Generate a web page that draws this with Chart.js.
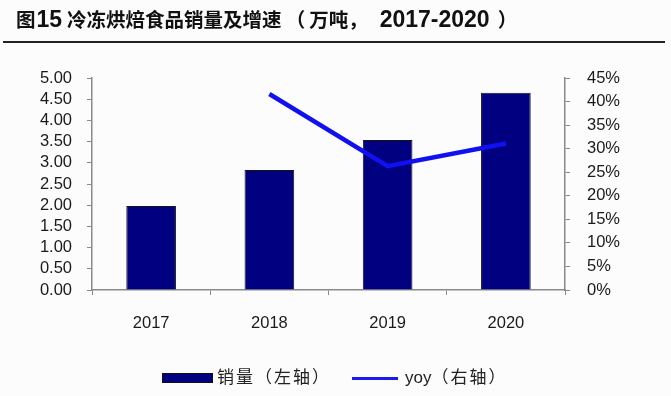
<!DOCTYPE html>
<html>
<head>
<meta charset="utf-8">
<script src="https://cdn.jsdelivr.net/npm/chart.js@4"></script>
<style>
  html, body { margin: 0; padding: 0; background: #fcfcfc; }
  #wrap { position: relative; width: 671px; height: 396px; overflow: hidden; }
  #title { position: absolute; left: 16px; top: 6px; font: bold 19.5px "Liberation Sans", "Noto Sans CJK SC", sans-serif; color: #111; white-space: nowrap; line-height: 26px; }
  #title .d { font-size: 23px; }
  #title .n { margin: 0 5px 0 1px; }
  #title .po { margin: 0 4px 0 4px; }
  #title .cm { margin-right: 12px; }
  #title .pc { margin-left: 8px; }
  #rule { position: absolute; left: 3px; top: 41px; width: 662px; height: 2px; background: #222; }
  canvas { position: absolute; left: 0; top: 0; }
  #legend { position: absolute; top: 367px; left: 0; width: 671px; height: 22px; font: 17px "Liberation Sans", "Noto Sans CJK SC", sans-serif; color: #222; }
  .item { position: absolute; top: 0; line-height: 22px; white-space: nowrap; }
  .cj { letter-spacing: 2px; }
  .sw-bar { position: absolute; width: 49px; height: 8px; background: #000080; border: 1px solid #111; top: 6px; }
  .sw-line { position: absolute; width: 46px; height: 3px; background: #1a1af0; top: 10px; }
</style>
</head>
<body>
<div id="wrap">
  <canvas id="c" width="671" height="396"></canvas>
  <div id="title">图<span class="d n">15</span>冷冻烘焙食品销量及增速<span class="po">（</span>万吨<span class="cm">，</span><span class="d">2017-2020</span><span class="pc">）</span></div>
  <div id="rule"></div>
  <div id="legend">
    <div class="sw-bar" style="left:162px"></div>
    <div class="item cj" style="left:217px">销量（左轴）</div>
    <div class="sw-line" style="left:352px"></div>
    <div class="item" style="left:405px">yoy<span class="cj">（右轴）</span></div>
  </div>
</div>
<script>
const years = ['2017', '2018', '2019', '2020'];
const salesVolume = [1.98, 2.83, 3.54, 4.65];      // 万吨
const yoyGrowth = [null, 41.6, 26.3, 31.1];          // %
const leftTicks = ['0.00','0.50','1.00','1.50','2.00','2.50','3.00','3.50','4.00','4.50','5.00'];
const rightTicks = ['0%','5%','10%','15%','20%','25%','30%','35%','40%','45%'];

const tickFont = { family: '"Liberation Sans", Arial, sans-serif', size: 16.5 };

new Chart(document.getElementById('c'), {
  data: {
    labels: years,
    datasets: [
      {
        type: 'line',
        label: 'yoy（右轴）',
        data: yoyGrowth,
        yAxisID: 'yR',
        borderColor: '#1010f0',
        borderWidth: 4.5,
        pointRadius: 0,
        tension: 0,
        fill: false,
        order: 0
      },
      {
        type: 'bar',
        label: '销量（左轴）',
        data: salesVolume,
        yAxisID: 'yL',
        backgroundColor: '#000080',
        borderColor: '#151515',
        borderWidth: 1,
        barPercentage: 0.42,
        categoryPercentage: 1.0,
        order: 1
      }
    ]
  },
  options: {
    responsive: false,
    animation: false,
    devicePixelRatio: 1,
    layout: { padding: { top: 78, bottom: 56, left: 0, right: 0 } },
    plugins: { legend: { display: false }, tooltip: { enabled: false } },
    scales: {
      x: {
        offset: true,
        grid: { display: true, drawOnChartArea: false, drawTicks: true, tickLength: 5, color: '#8a8a8a', offset: true },
        border: { display: true, color: '#8a8a8a', width: 1.5 },
        ticks: { font: tickFont, color: '#1a1a1a', padding: 19, maxRotation: 0, autoSkip: false },
        afterFit: (s) => { s.height = 50; }
      },
      yL: {
        position: 'left',
        min: 0, max: 5,
        ticks: {
          stepSize: 0.5, font: tickFont, color: '#1a1a1a', padding: 15, autoSkip: false,
          callback: (v, i) => leftTicks[i]
        },
        grid: { display: true, drawOnChartArea: false, drawTicks: true, tickLength: 5, color: '#8a8a8a' },
        border: { display: true, color: '#8a8a8a', width: 1.5 },
        afterFit: (s) => { s.width = 92; }
      },
      yR: {
        position: 'right',
        min: 0, max: 45,
        ticks: {
          stepSize: 5, font: tickFont, color: '#1a1a1a', padding: 17, autoSkip: false,
          callback: (v, i) => rightTicks[i]
        },
        grid: { display: true, drawOnChartArea: false, drawTicks: true, tickLength: 5, color: '#8a8a8a' },
        border: { display: true, color: '#8a8a8a', width: 1.5 },
        afterFit: (s) => { s.width = 106; }
      }
    }
  }
});
</script>
</body>
</html>
